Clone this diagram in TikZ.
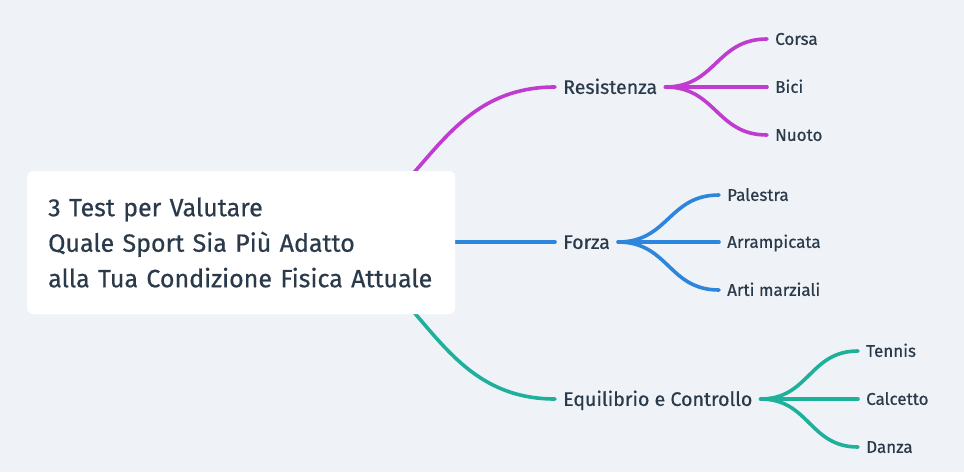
\documentclass[tikz,border=0pt]{standalone}
\usepackage{fontspec}
\setmainfont{Fira Sans}[FakeBold=0.6]
\usepackage{xcolor}
\usetikzlibrary{calc}

\definecolor{bgcol}{HTML}{EFF3F7}
\definecolor{txtcol}{HTML}{2B3A4A}
\definecolor{rescol}{HTML}{C03BD0}
\definecolor{forcol}{HTML}{2E86DC}
\definecolor{equcol}{HTML}{1FB09C}

\tikzset{
    branch/.style={line width=3.6pt, line cap=round,
        to path={let \p1=(\tikztostart), \p2=(\tikztotarget) in
            .. controls ({(\x1+\x2)/2},\y1) and ({(\x1+\x2)/2},\y2) .. (\tikztotarget)}},
    topic/.style={anchor=west, inner xsep=8pt, inner ysep=0pt, text=txtcol,
        text height=13.8pt, text depth=0pt, font=\fontsize{19.6}{24}\selectfont},
    leaf/.style={anchor=west, inner xsep=8pt, inner ysep=0pt, text=txtcol,
        text height=11.7pt, text depth=0pt, font=\fontsize{17}{20}\selectfont},
    root/.style={anchor=west, fill=white, rounded corners=6pt, text=txtcol,
        text width=386pt, inner xsep=21pt, minimum height=143pt, align=left,
        font=\fontsize{25}{35.5}\selectfont},
}

\begin{document}
\begin{tikzpicture}[x=1pt,y=-1pt]
    % background
    \fill[bgcol] (0,0) rectangle (964,472);
    \useasboundingbox (0,0) rectangle (964,472);

    % topics
    \node[topic] (res) at (555,87) {Resistenza};
    \node[topic] (forza) at (555,242) {Forza};
    \node[topic] (equi) at (555,399) {Equilibrio e Controllo};

    % leaves
    \foreach \name/\txt/\y in {corsa/Corsa/39, bici/Bici/87, nuoto/Nuoto/135}
        \node[leaf] (\name) at (767,\y) {\txt};
    \foreach \name/\txt/\y in {palestra/Palestra/195, arrampicata/Arrampicata/242, arti/Arti marziali/290}
        \node[leaf] (\name) at (719,\y) {\txt};
    \foreach \name/\txt/\y in {tennis/Tennis/351, calcetto/Calcetto/399, danza/Danza/447}
        \node[leaf] (\name) at (858,\y) {\txt};

    % links from the root
    \coordinate (hub) at (287,242);
    \draw[branch, rescol] (hub) to (res.west);
    \draw[branch, forcol] (hub) to (forza.west);
    \draw[branch, equcol] (hub) to (equi.west);

    % links to the leaves
    \foreach \name in {corsa,bici,nuoto}
        \draw[branch, rescol] (res.east) to (\name.west);
    \foreach \name in {palestra,arrampicata,arti}
        \draw[branch, forcol] (forza.east) to (\name.west);
    \foreach \name in {tennis,calcetto,danza}
        \draw[branch, equcol] (equi.east) to (\name.west);

    % root
    \node[root] (root) at (27,242.5) {\mbox{3 Test per Valutare}\\\mbox{Quale Sport Sia Più Adatto}\\\mbox{alla Tua Condizione Fisica Attuale}};
\end{tikzpicture}
\end{document}
